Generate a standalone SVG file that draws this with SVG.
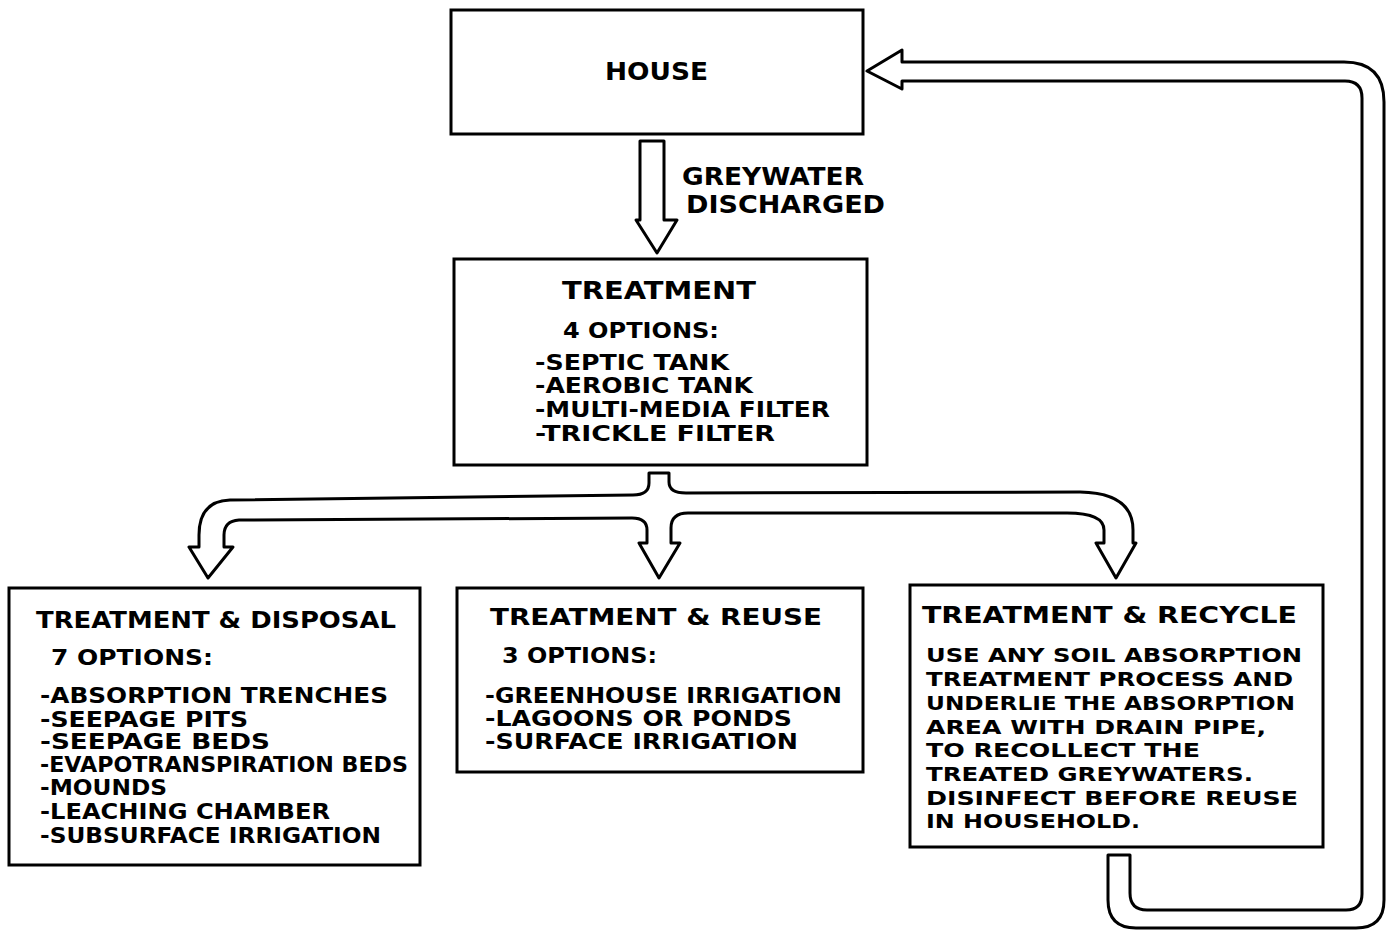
<svg xmlns="http://www.w3.org/2000/svg" width="1389" height="930" viewBox="0 0 1389 930">
<style>
  .box { fill: #fff; stroke: #000; stroke-width: 3; }
  .pipe { fill: #fff; stroke: #000; stroke-width: 3; stroke-linejoin: round; }
  text { font-family: "DejaVu Sans", "Liberation Sans", sans-serif; font-weight: bold; fill: #000; }
  .t1 { font-size: 25px; }
  .t2 { font-size: 21px; }
  .t3 { font-size: 20px; }
  .tb { font-size: 23px; }
</style>
<rect width="1389" height="930" fill="#fff"/>

<g id="connectors">
  <path id="house-to-treatment" class="pipe" d="M640,141 L664,141 L664,220 L677,220 L657,253 L636,220 L640,220 Z"/>
  <path id="treatment-branch" class="pipe" d="M649,473 L669,473 L669,482 Q669,493 686,493 L1080,492 Q1133,493 1133,530 L1133,543 L1136,543 L1116,578 L1096,543 L1104,543 L1104,530 Q1104,513 1067,513 L688,513 Q671,513 671,528 L671,543 L680,543 L659,578 L639,543 L647,543 L647,530 Q647,518 632,518 L239,520 Q224,521 224,535 L224,547 L233,547 L208,578 L189,547 L199,547 L199,535 Q199,501 230,500 L633,495 Q649,495 649,483 Z"/>
  <path id="recycle-to-house" class="pipe" d="M1108,855 L1130,855 L1130,893 Q1130,910 1147,910 L1346,910 Q1362,910 1362,894 L1362,98 Q1362,81 1345,81 L902,81 L902,89 L867,71 L902,50 L902,62 L1344,62 Q1384,62 1384,102 L1384,900 Q1384,928 1356,928 L1136,928 Q1108,928 1108,900 Z"/>
  <text class="t1" x="682" y="185" textLength="182" lengthAdjust="spacingAndGlyphs">GREYWATER</text>
  <text class="t1" x="686" y="213" textLength="199" lengthAdjust="spacingAndGlyphs">DISCHARGED</text>
</g>

<g id="house">
  <rect class="box" x="451" y="10" width="412" height="124"/>
  <text class="t1" x="605" y="80" textLength="103" lengthAdjust="spacingAndGlyphs">HOUSE</text>
</g>

<g id="treatment">
  <rect class="box" x="454" y="259" width="413" height="206"/>
  <text class="t1" x="562" y="299" textLength="194" lengthAdjust="spacingAndGlyphs">TREATMENT</text>
  <text class="t2" x="563" y="338" textLength="156" lengthAdjust="spacingAndGlyphs">4 OPTIONS:</text>
  <text class="t2" x="535" y="370" textLength="194" lengthAdjust="spacingAndGlyphs">-SEPTIC TANK</text>
  <text class="t2" x="535" y="393" textLength="218" lengthAdjust="spacingAndGlyphs">-AEROBIC TANK</text>
  <text class="t2" x="535" y="417" textLength="295" lengthAdjust="spacingAndGlyphs">-MULTI-MEDIA FILTER</text>
  <text class="t2" x="535" y="441" textLength="240" lengthAdjust="spacingAndGlyphs">-TRICKLE FILTER</text>
</g>

<g id="disposal">
  <rect class="box" x="9" y="588" width="411" height="277"/>
  <text class="tb" x="36" y="628" textLength="360" lengthAdjust="spacingAndGlyphs">TREATMENT &amp; DISPOSAL</text>
  <text class="t2" x="51" y="665" textLength="162" lengthAdjust="spacingAndGlyphs">7 OPTIONS:</text>
  <text class="t2" x="40" y="703" textLength="348" lengthAdjust="spacingAndGlyphs">-ABSORPTION TRENCHES</text>
  <text class="t2" x="40" y="727" textLength="208" lengthAdjust="spacingAndGlyphs">-SEEPAGE PITS</text>
  <text class="t2" x="40" y="749" textLength="230" lengthAdjust="spacingAndGlyphs">-SEEPAGE BEDS</text>
  <text class="t2" x="40" y="772" textLength="368" lengthAdjust="spacingAndGlyphs">-EVAPOTRANSPIRATION BEDS</text>
  <text class="t2" x="40" y="795" textLength="127" lengthAdjust="spacingAndGlyphs">-MOUNDS</text>
  <text class="t2" x="40" y="819" textLength="290" lengthAdjust="spacingAndGlyphs">-LEACHING CHAMBER</text>
  <text class="t2" x="40" y="843" textLength="341" lengthAdjust="spacingAndGlyphs">-SUBSURFACE IRRIGATION</text>
</g>

<g id="reuse">
  <rect class="box" x="457" y="588" width="406" height="184"/>
  <text class="tb" x="490" y="625" textLength="332" lengthAdjust="spacingAndGlyphs">TREATMENT &amp; REUSE</text>
  <text class="t2" x="502" y="663" textLength="155" lengthAdjust="spacingAndGlyphs">3 OPTIONS:</text>
  <text class="t2" x="485" y="703" textLength="357" lengthAdjust="spacingAndGlyphs">-GREENHOUSE IRRIGATION</text>
  <text class="t2" x="485" y="726" textLength="307" lengthAdjust="spacingAndGlyphs">-LAGOONS OR PONDS</text>
  <text class="t2" x="485" y="749" textLength="313" lengthAdjust="spacingAndGlyphs">-SURFACE IRRIGATION</text>
</g>

<g id="recycle">
  <rect class="box" x="910" y="585" width="413" height="262"/>
  <text class="tb" x="922" y="623" textLength="375" lengthAdjust="spacingAndGlyphs">TREATMENT &amp; RECYCLE</text>
  <text class="t3" x="926" y="662" textLength="376" lengthAdjust="spacingAndGlyphs">USE ANY SOIL ABSORPTION</text>
  <text class="t3" x="926" y="686" textLength="367" lengthAdjust="spacingAndGlyphs">TREATMENT PROCESS AND</text>
  <text class="t3" x="926" y="710" textLength="369" lengthAdjust="spacingAndGlyphs">UNDERLIE THE ABSORPTION</text>
  <text class="t3" x="926" y="734" textLength="340" lengthAdjust="spacingAndGlyphs">AREA WITH DRAIN PIPE,</text>
  <text class="t3" x="926" y="757" textLength="274" lengthAdjust="spacingAndGlyphs">TO RECOLLECT THE</text>
  <text class="t3" x="926" y="781" textLength="327" lengthAdjust="spacingAndGlyphs">TREATED GREYWATERS.</text>
  <text class="t3" x="926" y="805" textLength="372" lengthAdjust="spacingAndGlyphs">DISINFECT BEFORE REUSE</text>
  <text class="t3" x="926" y="828" textLength="214" lengthAdjust="spacingAndGlyphs">IN HOUSEHOLD.</text>
</g>
</svg>
